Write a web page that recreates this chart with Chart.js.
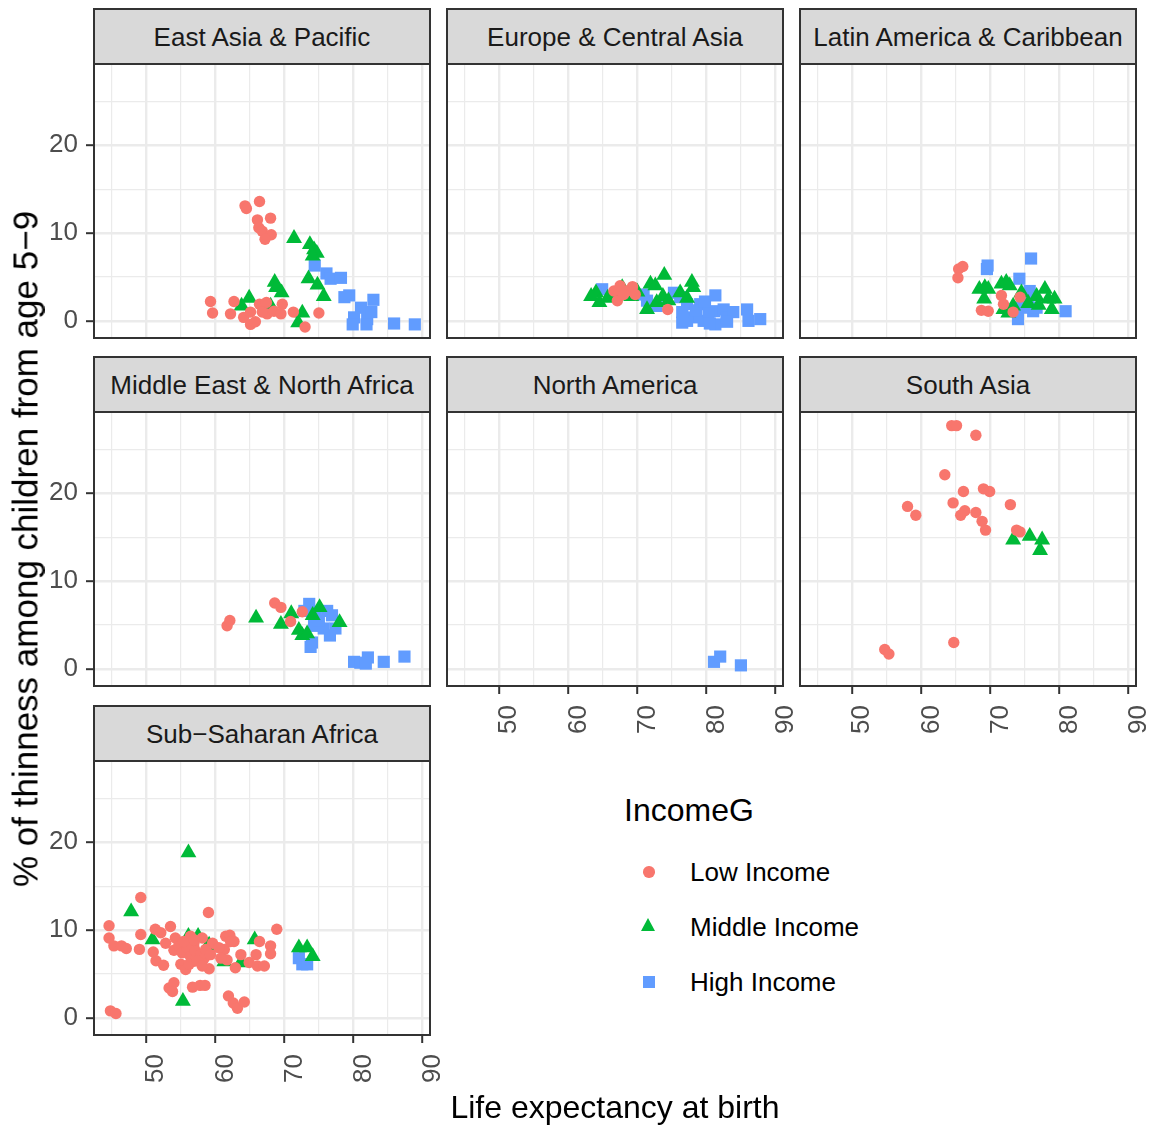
<!DOCTYPE html>
<html><head><meta charset="utf-8">
<script src="https://cdn.jsdelivr.net/npm/chart.js@4.4.0/dist/chart.umd.min.js"></script>
<style>
body{margin:0;background:#fff;width:1155px;height:1126px;position:relative;overflow:hidden;font-family:"Liberation Sans",Arial,Helvetica,sans-serif;}
.strip{position:absolute;box-sizing:border-box;background:#D9D9D9;border:2px solid #333;display:flex;align-items:center;justify-content:center;font-size:26px;color:#1A1A1A;white-space:nowrap;padding-top:1px;}
canvas{position:absolute}
.txt{position:absolute;white-space:nowrap;line-height:1;color:#000;}
.key{position:absolute;}
</style></head><body>
<script>
// ---------- data ----------
const regions = ["East Asia & Pacific","Europe & Central Asia","Latin America & Caribbean","Middle East & North Africa","North America","South Asia","Sub\u2212Saharan Africa"];
const groups = ["Low Income","Middle Income","High Income"];
const xBreaks = [50,60,70,80,90];
const xLabels = ["50","60","70","80","90"];
const xMinor = [45,55,65,75,85];
const yBreaks = [0,10,20];
const yLabels = ["0","10","20"];
const yMinor = [5,15,25];

const eapLow = [[64.3,13.1],[64.5,12.8],[66.4,13.6],[66.1,11.5],[68.0,11.7],[66.3,10.6],[66.8,10.2],[68.1,9.8],[67.2,9.3],[59.3,2.2],[59.6,0.9],[62.7,2.2],[62.2,0.8],[64.1,0.4],[65.1,-0.4],[65.8,-0.1],[66.4,1.9],[67.4,2.1],[67.5,0.8],[68.5,1.1],[69.7,1.9],[69.5,0.8],[66.8,1.0],[65.1,1.0],[71.3,1.0],[75.0,0.9],[73.0,-0.7]];
const eapMid = [[71.4,9.4],[73.7,8.7],[74.3,8.1],[74.7,7.7],[74.1,7.4],[68.6,4.4],[68.8,3.8],[69.6,3.2],[73.5,4.8],[74.8,4.1],[75.7,2.8],[64.9,2.6],[63.8,1.7],[68.0,1.7],[72.6,0.9],[72.0,-0.2]];
const eapHigh = [[74.4,6.3],[76.1,5.4],[76.7,4.8],[78.2,4.9],[78.7,2.7],[79.4,2.9],[82.9,2.4],[81.1,1.5],[80.1,0.4],[79.9,-0.4],[82.0,0.2],[82.6,1.0],[81.9,-0.4],[85.9,-0.3],[88.9,-0.4]];

const ecaLow = [[66.6,3.4],[67.5,4.0],[67.1,2.3],[68.5,3.4],[69.3,3.9],[69.7,3.0],[74.4,1.3],[68.0,3.0]];
const ecaMid = [[63.3,2.8],[64.0,3.2],[64.5,2.1],[65.7,2.6],[67.8,3.8],[69.1,2.8],[71.9,4.2],[72.6,4.0],[73.9,5.2],[73.7,2.8],[74.5,2.3],[76.2,3.2],[77.9,4.4],[78.1,3.8],[77.2,2.6],[71.4,1.3],[72.8,2.1],[66.5,2.8],[70.0,3.3]];
const ecaHigh = [[64.9,3.6],[70.9,3.0],[71.4,2.3],[72.8,1.7],[75.3,3.2],[76.2,2.7],[76.5,-0.2],[77.2,1.9],[78.2,0.4],[79.1,1.9],[79.6,0.0],[81.3,2.9],[81.1,1.1],[81.3,-0.4],[82.5,1.3],[82.9,0.4],[83.9,1.0],[85.9,1.3],[86.1,0.0],[87.8,0.2],[77.2,0.0],[78.5,1.2],[80.3,1.0],[80.5,-0.3],[83.0,-0.1],[79.8,2.2],[76.5,1.0]];

const lacLow = [[66.0,6.2],[65.4,5.9],[65.3,4.9],[68.7,1.2],[69.7,1.1],[71.6,2.9],[71.9,1.9],[73.3,1.0],[74.3,2.7]];
const lacMid = [[68.4,3.6],[69.2,3.8],[69.7,3.6],[69.1,2.5],[71.6,4.2],[72.3,4.4],[72.8,4.0],[71.9,1.3],[72.6,0.9],[74.5,3.2],[76.7,2.8],[77.9,3.6],[78.4,2.5],[79.3,2.5],[78.9,1.3],[73.3,1.7],[75.5,2.0],[77.0,1.8]];
const lacHigh = [[69.6,6.3],[69.5,5.9],[75.9,7.1],[74.2,4.8],[75.7,3.4],[75.2,1.9],[76.2,1.1],[76.7,1.5],[74.0,0.2],[80.9,1.1],[75.5,2.5],[74.6,1.5]];

const menaLow = [[61.7,4.9],[62.1,5.5],[68.6,7.5],[69.5,7.0],[70.9,5.4],[72.6,6.5]];
const menaMid = [[65.9,5.8],[69.5,5.1],[71.0,6.3],[72.1,4.4],[72.6,3.8],[74.1,6.1],[75.1,7.0],[78.0,5.3],[73.3,4.0]];
const menaHigh = [[73.6,7.4],[72.9,6.6],[76.2,6.6],[76.9,6.1],[74.3,4.9],[75.7,4.6],[77.4,4.6],[76.6,3.8],[74.0,3.0],[73.8,2.5],[80.1,0.8],[81.0,0.7],[82.1,1.3],[81.8,0.6],[84.4,0.8],[87.4,1.4],[74.5,6.0],[75.0,5.5]];

const namLow = [];
const namMid = [];
const namHigh = [[81.1,0.8],[82.0,1.4],[85.0,0.4]];

const saLow = [[64.4,27.7],[65.1,27.7],[67.9,26.6],[63.4,22.1],[66.1,20.2],[69.0,20.5],[69.9,20.2],[58.0,18.5],[59.2,17.5],[64.6,18.9],[72.9,18.7],[65.7,17.5],[66.3,18.0],[67.9,17.8],[68.8,16.8],[69.3,15.8],[73.8,15.8],[74.3,15.6],[54.7,2.2],[55.3,1.7],[64.7,3.0]];
const saMid = [[73.3,14.7],[75.7,15.1],[77.5,14.7],[77.2,13.5]];
const saHigh = [];

const ssaLow = [[44.6,10.5],[44.6,9.1],[45.3,8.2],[46.4,8.2],[47.1,7.9],[49.2,13.7],[49.2,9.5],[49.0,7.8],[51.3,10.1],[52.1,9.7],[53.5,10.4],[54.2,9.1],[52.8,8.5],[54.0,7.7],[51.0,7.5],[51.4,6.5],[52.5,6.0],[59.0,12.0],[56.4,9.3],[56.9,8.0],[55.5,8.35],[56.9,8.5],[55.0,6.1],[55.7,5.5],[56.9,6.45],[58.4,6.8],[59.1,5.6],[61.5,9.3],[62.1,9.4],[62.7,8.7],[61.3,7.8],[61.7,6.6],[62.9,5.7],[63.7,7.2],[64.9,6.3],[66.1,5.9],[67.1,5.9],[65.9,7.2],[66.4,8.7],[68.0,8.2],[68.0,7.3],[68.9,10.1],[53.3,3.4],[54.0,4.0],[53.8,3.0],[56.7,3.5],[57.8,3.7],[58.5,3.7],[61.9,2.5],[62.6,1.7],[63.2,1.1],[64.2,1.8],[44.8,0.8],[45.6,0.5],[54.7,8.2],[55.2,7.4],[55.9,8.0],[56.4,7.0],[57.1,7.6],[57.9,7.2],[58.6,7.8],[59.3,7.2],[56.2,6.1],[57.4,6.5],[58.1,5.9],[55.4,8.7],[56.9,8.9],[58.1,9.1],[59.6,8.5],[60.5,8.0],[60.8,6.8],[62.2,8.7]];
const ssaMid = [[56.1,18.8],[47.8,12.1],[50.9,8.9],[56.1,9.3],[57.5,9.3],[58.9,8.2],[59.1,8.3],[61.3,6.4],[63.7,6.3],[65.7,8.9],[55.3,1.9],[72.1,8.0],[73.3,8.0],[74.1,7.0]];
const ssaHigh = [[72.1,6.8],[72.6,6.1],[73.3,6.1]];

const panelData = [
  [eapLow, eapMid, eapHigh],
  [ecaLow, ecaMid, ecaHigh],
  [lacLow, lacMid, lacHigh],
  [menaLow, menaMid, menaHigh],
  [namLow, namMid, namHigh],
  [saLow, saMid, saHigh],
  [ssaLow, ssaMid, ssaHigh]
];

// ---------- styling / layout ----------
const FONT = '"Liberation Sans", Arial, Helvetica, sans-serif';
const COLORS = ['#F8766D','#00BA38','#619CFF'];
const SHAPES = ['circle','triangle','rect'];
const RADII = [5.7, 9.2, 8.6];
const COLX = [94, 447, 800], PW = 336;
const ROWY = [64, 412, 761], PH = 274;
const X_MIN = 42.42, X_MAX = 91.1, Y_MIN = -1.95, Y_MAX = 29.25;
const xAll = xMinor.concat(xBreaks).sort((a,b)=>a-b);
const yAll = yMinor.concat(yBreaks).sort((a,b)=>a-b);

const borderPlugin = {id:'pborder', afterDraw(chart){
  const a = chart.chartArea, c = chart.ctx;
  c.save(); c.strokeStyle = '#333'; c.lineWidth = 2;
  c.strokeRect(a.left, a.top, a.right - a.left, a.bottom - a.top);
  c.restore();
}};

function zeroPad(s){ s.paddingLeft = 0; s.paddingRight = 0; s.paddingTop = 0; s.paddingBottom = 0; }

function addStrip(col, row, text){
  const d = document.createElement('div');
  d.className = 'strip';
  d.style.left = (COLX[col]-1) + 'px';
  d.style.top = (ROWY[row]-56) + 'px';
  d.style.width = (PW+2) + 'px';
  d.style.height = '57px';
  d.textContent = text;
  document.body.appendChild(d);
}

function makePanel(idx, col, row, showX, showY){
  const PAD = 4, PADR = showX ? 26 : 4, WY = showY ? 60 : 0, HX = showX ? 56 : 0;
  const left = COLX[col] - WY - PAD, top = ROWY[row] - PAD;
  const w = WY + PW + PAD + PADR, h = PH + HX + 2*PAD;
  const cv = document.createElement('canvas');
  cv.width = w; cv.height = h;
  cv.style.left = left + 'px'; cv.style.top = top + 'px';
  cv.style.width = w + 'px'; cv.style.height = h + 'px';
  document.body.appendChild(cv);
  const datasets = groups.map((g, i) => ({
    label: g,
    data: panelData[idx][i].map(p => ({x: p[0], y: p[1]})),
    pointStyle: SHAPES[i],
    pointRadius: RADII[i],
    pointBackgroundColor: COLORS[i],
    pointBorderColor: COLORS[i],
    pointBorderWidth: 0,
    order: i
  }));
  const majorX = v => xBreaks.includes(v);
  const majorY = v => yBreaks.includes(v);
  new Chart(cv, {
    type: 'scatter',
    data: {datasets},
    options: {
      responsive: false, animation: false, devicePixelRatio: 1, events: [],
      layout: {padding: {left: PAD, top: PAD, bottom: PAD, right: PADR}, autoPadding: false},
      plugins: {legend: {display: false}, tooltip: {enabled: false}},
      scales: {
        x: {
          type: 'linear', min: X_MIN, max: X_MAX,
          afterBuildTicks: s => { s.ticks = xAll.map(v => ({value: v})); },
          afterFit: s => { s.height = HX; zeroPad(s); },
          ticks: {display: showX, autoSkip: false, minRotation: 90, maxRotation: 90, padding: 11, labelOffset: 10,
            color: '#4D4D4D', font: {size: 26, family: FONT},
            callback: v => { const k = xBreaks.indexOf(v); return k >= 0 ? xLabels[k] : ''; }},
          grid: {color: '#EBEBEB', lineWidth: c => majorX(c.tick.value) ? 2.4 : 1.2,
            drawTicks: showX, tickLength: 8, tickWidth: 2,
            tickColor: c => majorX(c.tick.value) ? '#333333' : 'rgba(0,0,0,0)'},
          border: {display: false}
        },
        y: {
          type: 'linear', min: Y_MIN, max: Y_MAX,
          afterBuildTicks: s => { s.ticks = yAll.map(v => ({value: v})); },
          afterFit: s => { s.width = WY; zeroPad(s); },
          ticks: {display: showY, autoSkip: false, padding: 8,
            color: '#4D4D4D', font: {size: 26, family: FONT},
            callback: v => { const k = yBreaks.indexOf(v); return k >= 0 ? yLabels[k] : ''; }},
          grid: {color: '#EBEBEB', lineWidth: c => majorY(c.tick.value) ? 2.4 : 1.2,
            drawTicks: showY, tickLength: 8, tickWidth: 2,
            tickColor: c => majorY(c.tick.value) ? '#333333' : 'rgba(0,0,0,0)'},
          border: {display: false}
        }
      }
    },
    plugins: [borderPlugin]
  });
}

const layout = [
  [0,0,0,false,true],[1,1,0,false,false],[2,2,0,false,false],
  [3,0,1,false,true],[4,1,1,true,false],[5,2,1,true,false],
  [6,0,2,true,true]
];
layout.forEach(([idx,col,row,sx,sy]) => { makePanel(idx,col,row,sx,sy); addStrip(col,row,regions[idx]); });

function addText(txt, x, y, size, extra){
  const d = document.createElement('div');
  d.className = 'txt';
  d.textContent = txt;
  d.style.fontSize = size + 'px';
  d.style.left = x + 'px'; d.style.top = y + 'px';
  d.style.transform = extra || 'translate(-50%,-50%)';
  document.body.appendChild(d);
  return d;
}
// axis titles
addText('Life expectancy at birth', 615, 1107, 32);
addText('% of thinness among children from age 5\u22129', 25, 549, 35, 'translate(-50%,-50%) rotate(-90deg)');
// legend
addText('IncomeG', 624, 810, 32, 'translate(0,-50%)');
const keyY = [872, 927, 982];
groups.forEach((g, i) => {
  addText(g, 690, keyY[i], 26, 'translate(0,-50%)');
  const k = document.createElement('div');
  k.className = 'key';
  if (i === 0) {
    k.style.cssText = `left:${649-5.7}px;top:${keyY[i]-5.7}px;width:11.4px;height:11.4px;border-radius:50%;background:${COLORS[0]}`;
  } else if (i === 1) {
    k.style.cssText = `left:${649-7.9}px;top:${keyY[i]-9}px;width:0;height:0;border-left:7.9px solid transparent;border-right:7.9px solid transparent;border-bottom:13.7px solid ${COLORS[1]}`;
  } else {
    k.style.cssText = `left:${649-6}px;top:${keyY[i]-6}px;width:12px;height:12px;background:${COLORS[2]}`;
  }
  document.body.appendChild(k);
});
</script>
</body></html>
